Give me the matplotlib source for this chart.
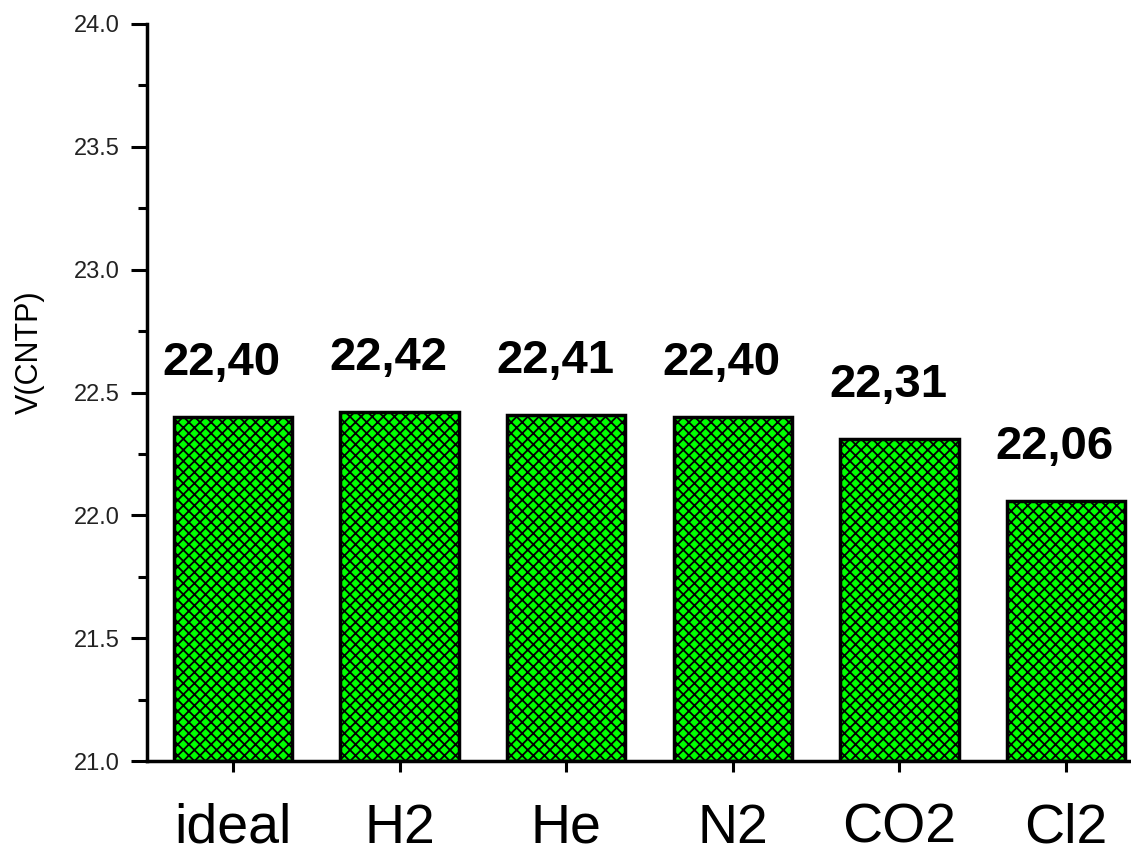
import matplotlib
matplotlib.use('Agg')
import matplotlib.pyplot as plt
import numpy as np
from matplotlib.ticker import MultipleLocator, FormatStrFormatter

# Données
gaz = ['ideal', 'H2', 'He', 'N2', 'CO2', 'Cl2']
volumes = [22.40, 22.42, 22.41, 22.40, 22.31, 22.06]
etiquettes = ['22,40', '22,42', '22,41', '22,40', '22,31', '22,06']

plt.rcParams['font.family'] = ['Liberation Sans', 'DejaVu Sans']
plt.rcParams['hatch.linewidth'] = 1.3
plt.rcParams['hatch.color'] = 'black'

fig = plt.figure(figsize=(11.31, 8.57), dpi=100)
ax = fig.add_axes([0.130, 0.112, 0.870, 0.860])

x = np.arange(len(gaz))
barres = ax.bar(x, np.array(volumes) - 21.0, bottom=21.0, width=0.71,
                color='#00ff00', edgecolor='black', linewidth=2.5,
                hatch='xxx')

for xi, v, t in zip(x, volumes, etiquettes):
    ax.annotate(t, (xi, v), xytext=(-8, 23), textcoords='offset points',
                ha='center', va='bottom', fontsize=34, fontweight='bold')

ax.set_ylim(21.0, 24.0)
ax.set_xlim(-0.516, 5.39)
ax.set_xticks(x)
ax.set_xticklabels(gaz, fontsize=40)
ax.yaxis.set_major_locator(MultipleLocator(0.5))
ax.yaxis.set_minor_locator(MultipleLocator(0.25))
ax.yaxis.set_major_formatter(FormatStrFormatter('%.1f'))

ax.tick_params(axis='y', which='major', length=11.5, width=2.2, labelsize=17,
               pad=8, labelcolor='#222222')
ax.tick_params(axis='y', which='minor', length=6.5, width=2.2)
ax.tick_params(axis='x', which='major', length=8, width=2.2, pad=22)

for s in ['top', 'right']:
    ax.spines[s].set_visible(False)
for s in ['left', 'bottom']:
    ax.spines[s].set_linewidth(2.5)

ax.set_ylabel('V(CNTP)', fontsize=22)
ax.yaxis.set_label_coords(-0.104, 0.555)

fig.savefig('out.png', dpi=100)
